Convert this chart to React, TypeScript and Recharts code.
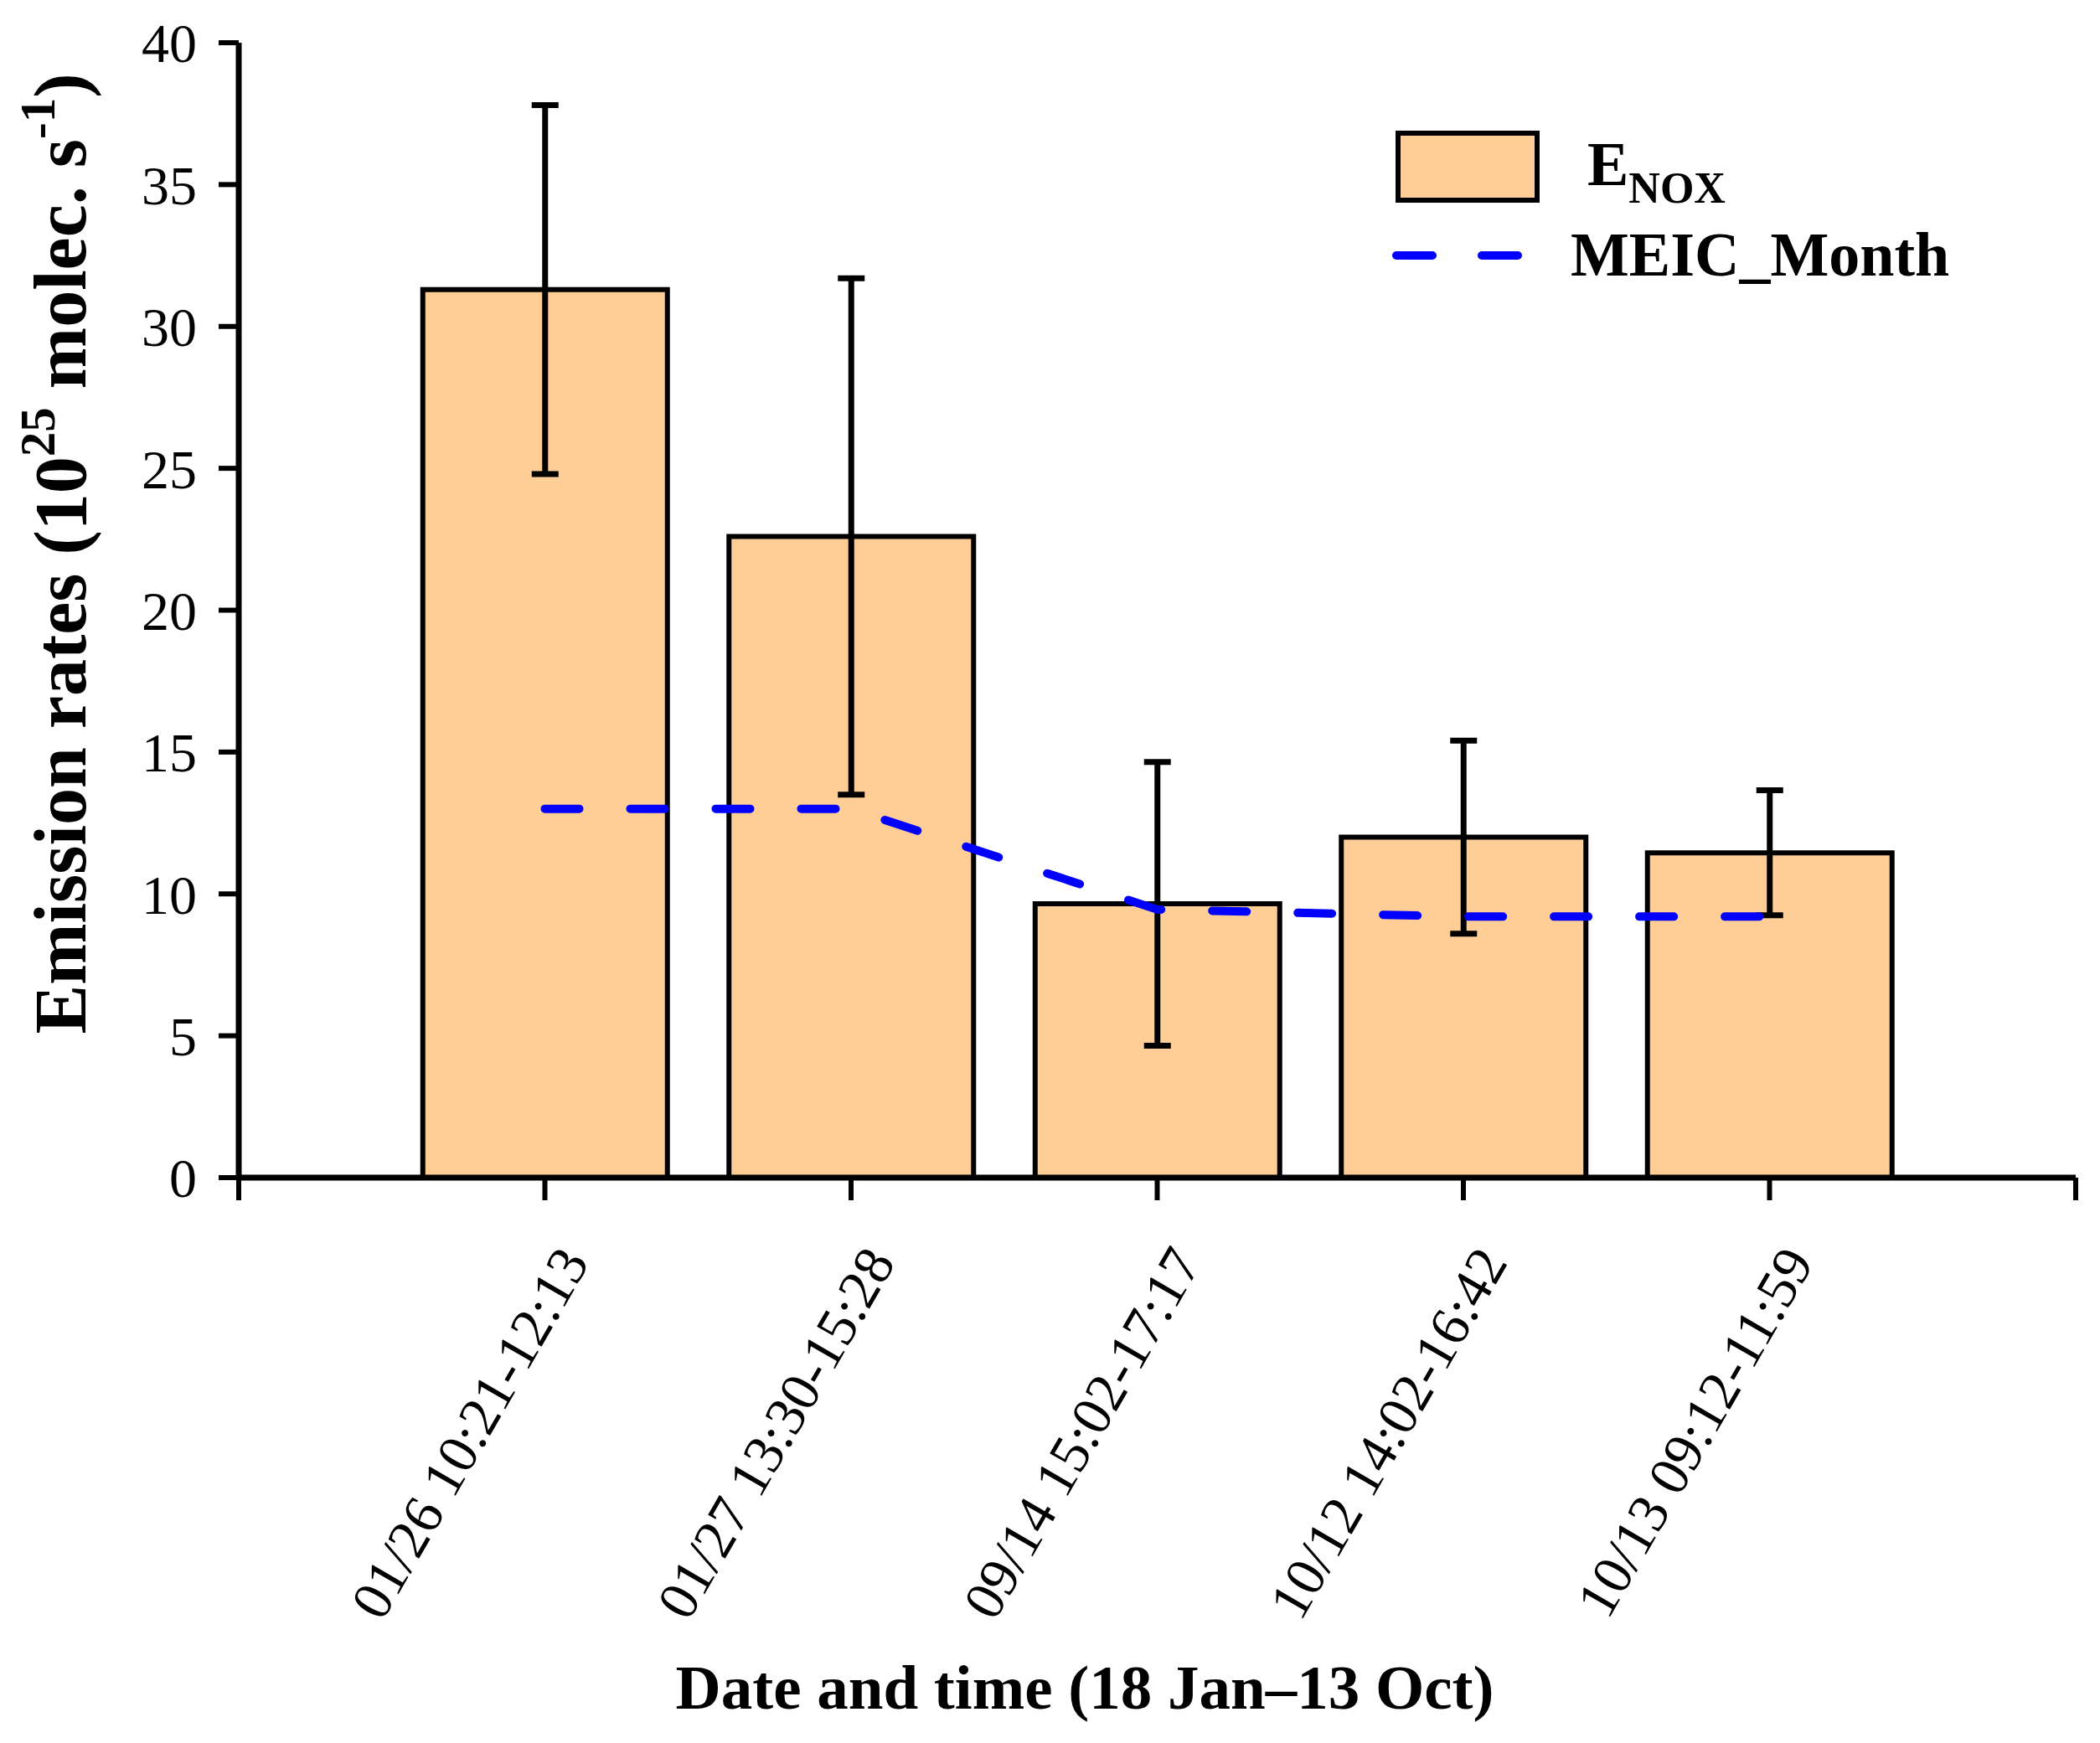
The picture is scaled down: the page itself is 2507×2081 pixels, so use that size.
import React from 'react';
import { ComposedChart, Bar, Line, XAxis, YAxis, ErrorBar, Legend, Label } from 'recharts';

const FONT = "'Liberation Serif', 'Times New Roman', serif";

const categories = [
  '01/26 10:21-12:13',
  '01/27 13:30-15:28',
  '09/14 15:02-17:17',
  '10/12 14:02-16:42',
  '10/13 09:12-11:59',
];
const enoxValues = [31.3, 22.6, 9.65, 12.0, 11.45];
const enoxErrors = [6.5, 9.1, 5.0, 3.4, 2.2];
const meicValues = [13.0, 13.0, 9.45, 9.2, 9.2];
const yTicks = [0, 5, 10, 15, 20, 25, 30, 35, 40];
const xTicks = [0, 1, 2, 3, 4, 5, 6];

const BAR_FILL = '#FECE96';
const LINE_COLOR = '#0000FF';

const data = categories.map((c, i) => ({
  x: i + 1,
  label: c,
  enox: enoxValues[i],
  err: enoxErrors[i],
  meic: meicValues[i],
}));

const XTick = (props: any) => {
  const { x, y, payload } = props;
  const idx = Math.round(payload.value) - 1;
  if (idx < 0 || idx >= categories.length) return null;
  return (
    <text
      transform={`translate(${x + 54},${y + 72}) rotate(-60)`}
      textAnchor="end"
      fontSize={67}
      fontFamily={FONT}
      fill="#000"
    >
      {categories[idx]}
    </text>
  );
};

const YLabel = () => (
  <text
    transform="translate(102,661) rotate(-90)"
    textAnchor="middle"
    fontSize={88}
    fontWeight="bold"
    fontFamily={FONT}
    fill="#000"
  >
    Emission rates (10
    <tspan dy={-37} fontSize={59}>25</tspan>
    <tspan dy={37}> molec. s</tspan>
    <tspan dy={-37} fontSize={59}>-1</tspan>
    <tspan dy={37}>)</tspan>
  </text>
);

const XLabel = () => (
  <text
    x={1295}
    y={2040}
    textAnchor="middle"
    fontSize={75}
    fontWeight="bold"
    fontFamily={FONT}
    fill="#000"
  >
    Date and time (18 Jan–13 Oct)
  </text>
);

const LegendContent = () => (
  <svg width={2500} height={400} style={{ display: 'block' }}>
    <rect x={1669} y={159} width={166} height={80} fill={BAR_FILL} stroke="#000" strokeWidth={6} />
    <text x={1895} y={221} fontSize={74} fontWeight="bold" fontFamily={FONT} fill="#000">
      E<tspan fontSize={52} dy={21}>NOX</tspan>
    </text>
    <line
      x1={1667}
      x2={1812}
      y1={305}
      y2={305}
      stroke={LINE_COLOR}
      strokeWidth={10}
      strokeDasharray="43 59"
      strokeLinecap="round"
    />
    <text x={1875} y={329} fontSize={74} fontWeight="bold" fontFamily={FONT} fill="#000">
      MEIC_Month
    </text>
  </svg>
);

export default function App() {
  return (
    <div style={{ position: 'absolute', left: 0, top: 0, background: '#fff' }}>
      <ComposedChart
        width={2500}
        height={2075}
        data={data}
        margin={{ top: 51, right: 22, bottom: 569, left: 85 }}
      >
        <XAxis
          dataKey="x"
          type="number"
          domain={[0, 6]}
          ticks={xTicks}
          interval={0}
          height={100}
          tickSize={27}
          axisLine={{ stroke: '#000', strokeWidth: 7 }}
          tickLine={{ stroke: '#000', strokeWidth: 6 }}
          tick={<XTick />}
        >
          <Label content={<XLabel />} />
        </XAxis>
        <YAxis
          type="number"
          domain={[0, 40]}
          ticks={yTicks}
          interval={0}
          width={200}
          tickSize={24}
          tickMargin={26}
          axisLine={{ stroke: '#000', strokeWidth: 7 }}
          tickLine={{ stroke: '#000', strokeWidth: 6 }}
          tick={{ fontSize: 66, fill: '#000', fontFamily: FONT }}
        >
          <Label content={<YLabel />} />
        </YAxis>
        <Legend
          layout="horizontal"
          verticalAlign="middle"
          align="center"
          wrapperStyle={{ left: 0, top: 0, width: 2500, height: 400, pointerEvents: 'none' }}
          content={<LegendContent />}
        />
        <Bar
          dataKey="enox"
          fill={BAR_FILL}
          stroke="#000"
          strokeWidth={6}
          barSize={292}
          isAnimationActive={false}
        >
          <ErrorBar dataKey="err" direction="y" width={16} stroke="#000" strokeWidth={7} />
        </Bar>
        <Line
          dataKey="meic"
          type="linear"
          stroke={LINE_COLOR}
          strokeWidth={10}
          strokeDasharray="41 61"
          strokeLinecap="round"
          dot={false}
          activeDot={false}
          isAnimationActive={false}
        />
      </ComposedChart>
    </div>
  );
}
